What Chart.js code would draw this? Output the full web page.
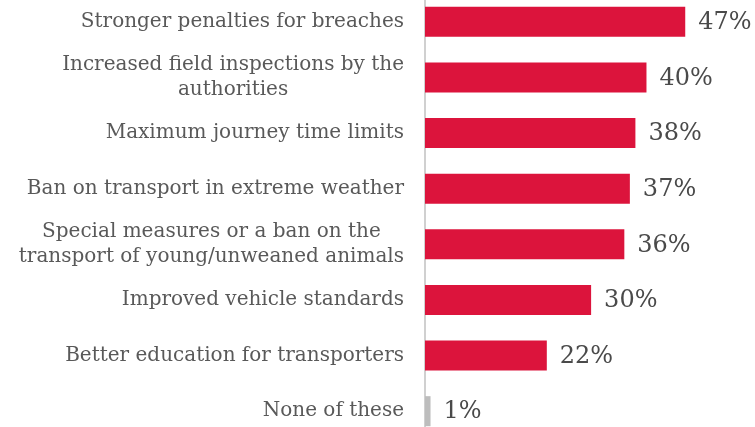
<!DOCTYPE html>
<html>
<head>
  <title>Transport measures</title>
  <script src="https://cdn.jsdelivr.net/npm/chart.js"></script>
  <style>
    html, body { margin: 0; padding: 0; background: #fff; overflow: hidden; }
    #wrap { position: absolute; left: 0; top: -6px; width: 755px; height: 445px; }
  </style>
</head>
<body>
  <div id="wrap"><canvas id="measuresChart"></canvas></div>
  <script>
    // labels split into lines as in the picture
    var categories = [
      ['Stronger penalties for breaches'],
      ['Increased field inspections by the', 'authorities'],
      ['Maximum journey time limits'],
      ['Ban on transport in extreme weather'],
      ['Special measures or a ban on the', 'transport of young/unweaned animals'],
      ['Improved vehicle standards'],
      ['Better education for transporters'],
      ['None of these']
    ];
    var shares = [47, 40, 38, 37, 36, 30, 22, 1];
    var barColors = ['#dc143c', '#dc143c', '#dc143c', '#dc143c', '#dc143c', '#dc143c', '#dc143c', '#bdbdbd'];

    var serif = '"DejaVu Serif", Georgia, serif';

    // draws the category labels (block right aligned, lines centred) and the % values
    var labelPlugin = {
      id: 'labelPlugin',
      afterDatasetsDraw: function (chart) {
        var ctx = chart.ctx;
        var yScale = chart.scales.y;
        var meta = chart.getDatasetMeta(0);
        ctx.save();
        ctx.textBaseline = 'middle';

        ctx.font = '20px ' + serif;
        ctx.fillStyle = '#595959';
        ctx.textAlign = 'center';
        categories.forEach(function (lines, i) {
          var y = yScale.getPixelForTick(i);
          var maxW = 0;
          lines.forEach(function (l) { maxW = Math.max(maxW, ctx.measureText(l).width); });
          var cx = chart.chartArea.left - 21 - maxW / 2;
          var lineH = 25;
          var y0 = y - (lines.length - 1) * lineH / 2;
          lines.forEach(function (l, j) { ctx.fillText(l, cx, y0 + j * lineH); });
        });

        ctx.font = '24px ' + serif;
        ctx.fillStyle = '#4a4a4a';
        ctx.textAlign = 'left';
        meta.data.forEach(function (bar, i) {
          ctx.fillText(shares[i] + '%', bar.x + 13, bar.y + 1);
        });
        ctx.restore();
      }
    };

    new Chart(document.getElementById('measuresChart'), {
      type: 'bar',
      data: {
        labels: categories,
        datasets: [{
          data: shares,
          backgroundColor: barColors,
          borderWidth: 0,
          barPercentage: 0.54,
          categoryPercentage: 1.0
        }]
      },
      options: {
        indexAxis: 'y',
        responsive: true,
        maintainAspectRatio: false,
        animation: false,
        layout: { padding: { left: 425, right: 0, top: 0, bottom: 0 } },
        plugins: { legend: { display: false }, tooltip: { enabled: false } },
        scales: {
          x: {
            min: 0, max: 59.6,
            display: false,
            grid: { display: false }
          },
          y: {
            ticks: { display: false },
            grid: { display: false, drawTicks: false },
            border: { display: true, color: '#d0d0d0', width: 2 }
          }
        }
      },
      plugins: [labelPlugin]
    });
  </script>
</body>
</html>
